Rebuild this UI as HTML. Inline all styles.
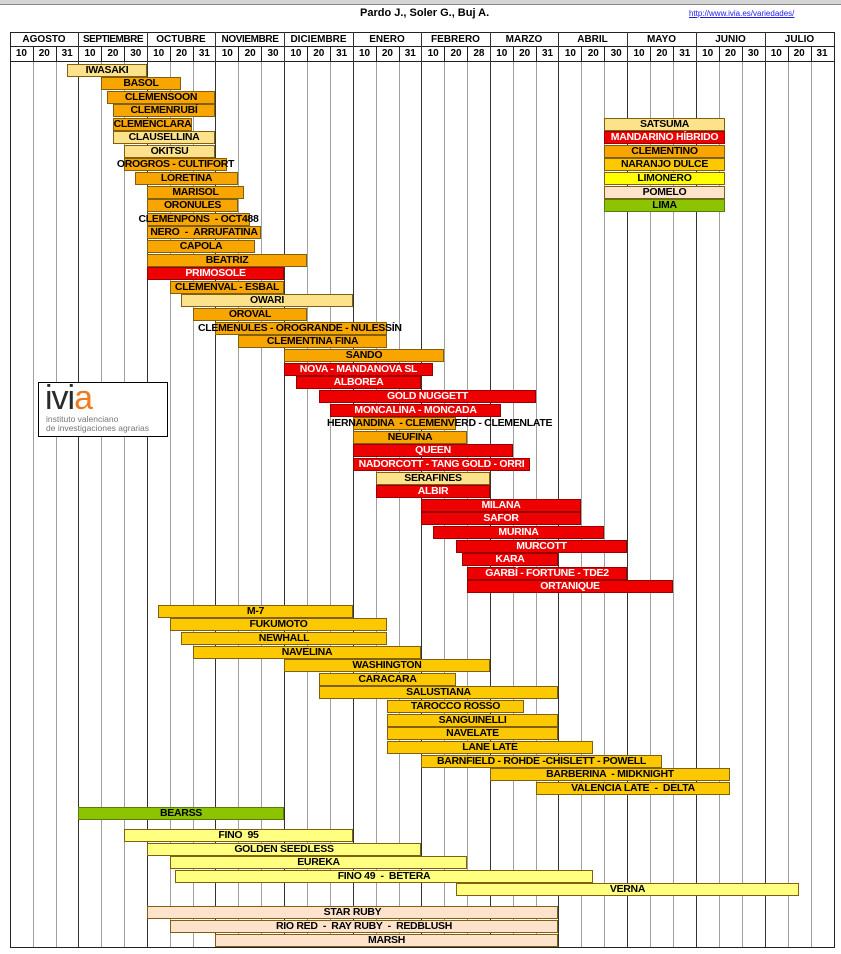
<!DOCTYPE html>
<html><head><meta charset="utf-8">
<style>
body{margin:0;width:841px;height:954px;background:#fff;position:relative;overflow:hidden;font-family:"Liberation Sans",Arial,sans-serif}
.v{position:absolute;top:62px;width:1px;height:885px;background:#a0a0a0}
.m{background:#333;top:32px;height:915px}
.h{position:absolute;font-weight:bold;font-size:10px;text-align:center;color:#000}
.b{position:absolute;height:11px;border:1px solid #806010;display:flex;justify-content:center;align-items:center;white-space:nowrap;font-weight:bold;font-size:10.5px;line-height:11px;letter-spacing:-0.3px;color:#000;overflow:visible;box-sizing:content-box}
.s{background:#fde28c}
.o{background:#f9a500}
.r{background:#ee0000;color:#fff;border-color:#900}
.g{background:#fcc800}
.l{background:#ffff80}
.p{background:#fde2cc}
.gr{background:#8cc400}
.ly{background:#ffff00}
.t{position:absolute;width:1px;height:16px;background:#222}
</style></head><body>
<div style="position:absolute;left:0;top:0;width:841px;height:4px;background:#d4d4d4;border-bottom:1px solid #888"></div>
<div style="position:absolute;left:360px;top:7px;font-weight:bold;font-size:11px">Pardo J., Soler G., Buj A.</div>
<div style="position:absolute;left:689px;top:9px;font-size:8px;color:#1a1aee;text-decoration:underline">http://www.ivia.es/variedades/</div>

<div style="position:absolute;left:10px;top:32px;width:823px;height:914px;border:1px solid #222"></div>
<div style="position:absolute;left:10px;top:46px;width:824px;height:1px;background:#222"></div>
<div style="position:absolute;left:10px;top:61px;width:824px;height:1px;background:#222"></div>

<div class="v m" style="left:78px"></div><div class="v m" style="left:147px"></div><div class="v m" style="left:215px"></div><div class="v m" style="left:284px"></div><div class="v m" style="left:353px"></div><div class="v m" style="left:421px"></div><div class="v m" style="left:490px"></div><div class="v m" style="left:558px"></div><div class="v m" style="left:627px"></div><div class="v m" style="left:696px"></div><div class="v m" style="left:765px"></div>
<div class="v" style="left:33px"></div><div class="v" style="left:56px"></div><div class="v" style="left:101px"></div><div class="v" style="left:124px"></div><div class="v" style="left:170px"></div><div class="v" style="left:193px"></div><div class="v" style="left:238px"></div><div class="v" style="left:261px"></div><div class="v" style="left:307px"></div><div class="v" style="left:330px"></div><div class="v" style="left:376px"></div><div class="v" style="left:399px"></div><div class="v" style="left:444px"></div><div class="v" style="left:467px"></div><div class="v" style="left:513px"></div><div class="v" style="left:536px"></div><div class="v" style="left:581px"></div><div class="v" style="left:604px"></div><div class="v" style="left:650px"></div><div class="v" style="left:673px"></div><div class="v" style="left:719px"></div><div class="v" style="left:742px"></div><div class="v" style="left:788px"></div><div class="v" style="left:811px"></div>
<div style="position:absolute;left:0;top:46px;width:841px;height:16px">
<div class="t" style="left:33px"></div><div class="t" style="left:56px"></div><div class="t" style="left:101px"></div><div class="t" style="left:124px"></div><div class="t" style="left:170px"></div><div class="t" style="left:193px"></div><div class="t" style="left:238px"></div><div class="t" style="left:261px"></div><div class="t" style="left:307px"></div><div class="t" style="left:330px"></div><div class="t" style="left:376px"></div><div class="t" style="left:399px"></div><div class="t" style="left:444px"></div><div class="t" style="left:467px"></div><div class="t" style="left:513px"></div><div class="t" style="left:536px"></div><div class="t" style="left:581px"></div><div class="t" style="left:604px"></div><div class="t" style="left:650px"></div><div class="t" style="left:673px"></div><div class="t" style="left:719px"></div><div class="t" style="left:742px"></div><div class="t" style="left:788px"></div><div class="t" style="left:811px"></div>
</div>

<div class="h" style="left:10px;top:34px;width:68px">AGOSTO</div>
<div class="h" style="left:79px;top:34px;width:68px;letter-spacing:-0.5px">SEPTIEMBRE</div>
<div class="h" style="left:147px;top:34px;width:68px">OCTUBRE</div>
<div class="h" style="left:216px;top:34px;width:68px;letter-spacing:-0.4px">NOVIEMBRE</div>
<div class="h" style="left:284px;top:34px;width:69px">DICIEMBRE</div>
<div class="h" style="left:353px;top:34px;width:68px">ENERO</div>
<div class="h" style="left:421px;top:34px;width:69px">FEBRERO</div>
<div class="h" style="left:490px;top:34px;width:68px">MARZO</div>
<div class="h" style="left:558px;top:34px;width:69px">ABRIL</div>
<div class="h" style="left:627px;top:34px;width:69px">MAYO</div>
<div class="h" style="left:696px;top:34px;width:69px">JUNIO</div>
<div class="h" style="left:765px;top:34px;width:69px">JULIO</div>

<div style="position:absolute;left:10px;top:48px;width:824px;display:flex;font-weight:bold;font-size:10px">
<span style="width:22.89px;text-align:center">10</span><span style="width:22.89px;text-align:center">20</span><span style="width:22.89px;text-align:center">31</span>
<span style="width:22.89px;text-align:center">10</span><span style="width:22.89px;text-align:center">20</span><span style="width:22.89px;text-align:center">30</span>
<span style="width:22.89px;text-align:center">10</span><span style="width:22.89px;text-align:center">20</span><span style="width:22.89px;text-align:center">31</span>
<span style="width:22.89px;text-align:center">10</span><span style="width:22.89px;text-align:center">20</span><span style="width:22.89px;text-align:center">30</span>
<span style="width:22.89px;text-align:center">10</span><span style="width:22.89px;text-align:center">20</span><span style="width:22.89px;text-align:center">31</span>
<span style="width:22.89px;text-align:center">10</span><span style="width:22.89px;text-align:center">20</span><span style="width:22.89px;text-align:center">31</span>
<span style="width:22.89px;text-align:center">10</span><span style="width:22.89px;text-align:center">20</span><span style="width:22.89px;text-align:center">28</span>
<span style="width:22.89px;text-align:center">10</span><span style="width:22.89px;text-align:center">20</span><span style="width:22.89px;text-align:center">31</span>
<span style="width:22.89px;text-align:center">10</span><span style="width:22.89px;text-align:center">20</span><span style="width:22.89px;text-align:center">30</span>
<span style="width:22.89px;text-align:center">10</span><span style="width:22.89px;text-align:center">20</span><span style="width:22.89px;text-align:center">31</span>
<span style="width:22.89px;text-align:center">10</span><span style="width:22.89px;text-align:center">20</span><span style="width:22.89px;text-align:center">30</span>
<span style="width:22.89px;text-align:center">10</span><span style="width:22.89px;text-align:center">20</span><span style="width:22.89px;text-align:center">31</span>
</div>

<!-- logo -->
<div style="position:absolute;left:38px;top:382px;width:128px;height:53px;border:1px solid #000;background:#fff;overflow:hidden">
<div style="position:absolute;left:6px;top:-4px;font-size:34px;color:#2a2a2a;letter-spacing:-1px">ivi<span style="color:#f07a20">a</span></div>
<div style="position:absolute;left:7px;top:32px;font-size:8.5px;color:#777;line-height:9px;white-space:nowrap">instituto valenciano<br>de investigaciones agrarias</div>
</div>

<!-- bars -->
<div class="b s" style="left:67px;top:64px;width:78px">IWASAKI</div>
<div class="b o" style="left:101px;top:77px;width:78px">BASOL</div>
<div class="b o" style="left:107px;top:91px;width:106px">CLEMENSOON</div>
<div class="b o" style="left:113px;top:104px;width:100px">CLEMENRUBÍ</div>
<div class="b o" style="left:113px;top:118px;width:77px">CLEMENCLARA</div>
<div class="b s" style="left:113px;top:131px;width:100px">CLAUSELLINA</div>
<div class="b s" style="left:124px;top:145px;width:89px">OKITSU</div>
<div class="b o" style="left:124px;top:158px;width:101px">OROGROS - CULTIFORT</div>
<div class="b o" style="left:135px;top:172px;width:101px">LORETINA</div>
<div class="b o" style="left:147px;top:186px;width:95px">MARISOL</div>
<div class="b o" style="left:147px;top:199px;width:89px">ORONULES</div>
<div class="b o" style="left:147px;top:213px;width:101px">CLEMENPONS &nbsp;- OCT488</div>
<div class="b o" style="left:147px;top:226px;width:112px">NERO &nbsp;- &nbsp;ARRUFATINA</div>
<div class="b o" style="left:147px;top:240px;width:106px">CAPOLA</div>
<div class="b o" style="left:147px;top:254px;width:158px">BEATRIZ</div>
<div class="b r" style="left:147px;top:267px;width:135px">PRIMOSOLE</div>
<div class="b o" style="left:170px;top:281px;width:112px">CLEMENVAL - ESBAL</div>
<div class="b s" style="left:181px;top:294px;width:170px">OWARI</div>
<div class="b o" style="left:193px;top:308px;width:112px">OROVAL</div>
<div class="b o" style="left:215px;top:322px;width:170px;justify-content:flex-start;text-indent:-18px">CLEMENULES - OROGRANDE - NULESSÍN</div>
<div class="b o" style="left:238px;top:335px;width:147px">CLEMENTINA FINA</div>
<div class="b o" style="left:284px;top:349px;width:158px">SANDO</div>
<div class="b r" style="left:284px;top:363px;width:147px">NOVA - MANDANOVA SL</div>
<div class="b r" style="left:296px;top:376px;width:123px">ALBOREA</div>
<div class="b r" style="left:319px;top:390px;width:215px">GOLD NUGGETT</div>
<div class="b r" style="left:330px;top:404px;width:169px">MONCALINA - MONCADA</div>
<div class="b o" style="left:353px;top:417px;width:101px;justify-content:flex-start;text-indent:-27px">HERNANDINA &nbsp;- CLEMENVERD - CLEMENLATE</div>
<div class="b o" style="left:353px;top:431px;width:112px">NEUFINA</div>
<div class="b r" style="left:353px;top:444px;width:158px">QUEEN</div>
<div class="b r" style="left:353px;top:458px;width:175px">NADORCOTT - TANG GOLD - ORRI</div>
<div class="b s" style="left:376px;top:472px;width:112px">SERAFINES</div>
<div class="b r" style="left:376px;top:485px;width:112px">ALBIR</div>
<div class="b r" style="left:421px;top:499px;width:158px">MILANA</div>
<div class="b r" style="left:421px;top:512px;width:158px">SAFOR</div>
<div class="b r" style="left:433px;top:526px;width:169px">MURINA</div>
<div class="b r" style="left:456px;top:540px;width:169px">MURCOTT</div>
<div class="b r" style="left:462px;top:553px;width:94px">KARA</div>
<div class="b r" style="left:467px;top:567px;width:158px">GARBÍ - FORTUNE - TDE2</div>
<div class="b r" style="left:467px;top:580px;width:204px">ORTANIQUE</div>

<div class="b g" style="left:158px;top:605px;width:193px">M-7</div>
<div class="b g" style="left:170px;top:618px;width:215px">FUKUMOTO</div>
<div class="b g" style="left:181px;top:632px;width:204px">NEWHALL</div>
<div class="b g" style="left:193px;top:646px;width:226px">NAVELINA</div>
<div class="b g" style="left:284px;top:659px;width:204px">WASHINGTON</div>
<div class="b g" style="left:319px;top:673px;width:135px">CARACARA</div>
<div class="b g" style="left:319px;top:686px;width:237px">SALUSTIANA</div>
<div class="b g" style="left:387px;top:700px;width:135px">TAROCCO ROSSO</div>
<div class="b g" style="left:387px;top:714px;width:169px">SANGUINELLI</div>
<div class="b g" style="left:387px;top:727px;width:169px">NAVELATE</div>
<div class="b g" style="left:387px;top:741px;width:204px">LANE LATE</div>
<div class="b g" style="left:421px;top:755px;width:239px">BARNFIELD - ROHDE -CHISLETT - POWELL</div>
<div class="b g" style="left:490px;top:768px;width:238px">BARBERINA &nbsp;- MIDKNIGHT</div>
<div class="b g" style="left:536px;top:782px;width:192px">VALENCIA LATE &nbsp;- &nbsp;DELTA</div>

<div class="b gr" style="left:78px;top:807px;width:204px;border-color:#5a7a10">BEARSS</div>

<div class="b l" style="left:124px;top:829px;width:227px">FINO &nbsp;95</div>
<div class="b l" style="left:147px;top:843px;width:272px">GOLDEN SEEDLESS</div>
<div class="b l" style="left:170px;top:856px;width:295px">EUREKA</div>
<div class="b l" style="left:175px;top:870px;width:416px">FINO 49 &nbsp;- &nbsp;BETERA</div>
<div class="b l" style="left:456px;top:883px;width:341px">VERNA</div>

<div class="b p" style="left:147px;top:906px;width:409px">STAR RUBY</div>
<div class="b p" style="left:170px;top:920px;width:386px">RIO RED &nbsp;- &nbsp;RAY RUBY &nbsp;- &nbsp;REDBLUSH</div>
<div class="b p" style="left:215px;top:934px;width:341px">MARSH</div>

<!-- legend -->
<div class="b s" style="left:604px;top:118px;width:119px">SATSUMA</div>
<div class="b r" style="left:604px;top:131px;width:119px">MANDARINO HÍBRIDO</div>
<div class="b o" style="left:604px;top:145px;width:119px">CLEMENTINO</div>
<div class="b g" style="left:604px;top:158px;width:119px">NARANJO DULCE</div>
<div class="b ly" style="left:604px;top:172px;width:119px">LIMONERO</div>
<div class="b p" style="left:604px;top:186px;width:119px">POMELO</div>
<div class="b gr" style="left:604px;top:199px;width:119px;border-color:#5a7a10">LIMA</div>
</body></html>
